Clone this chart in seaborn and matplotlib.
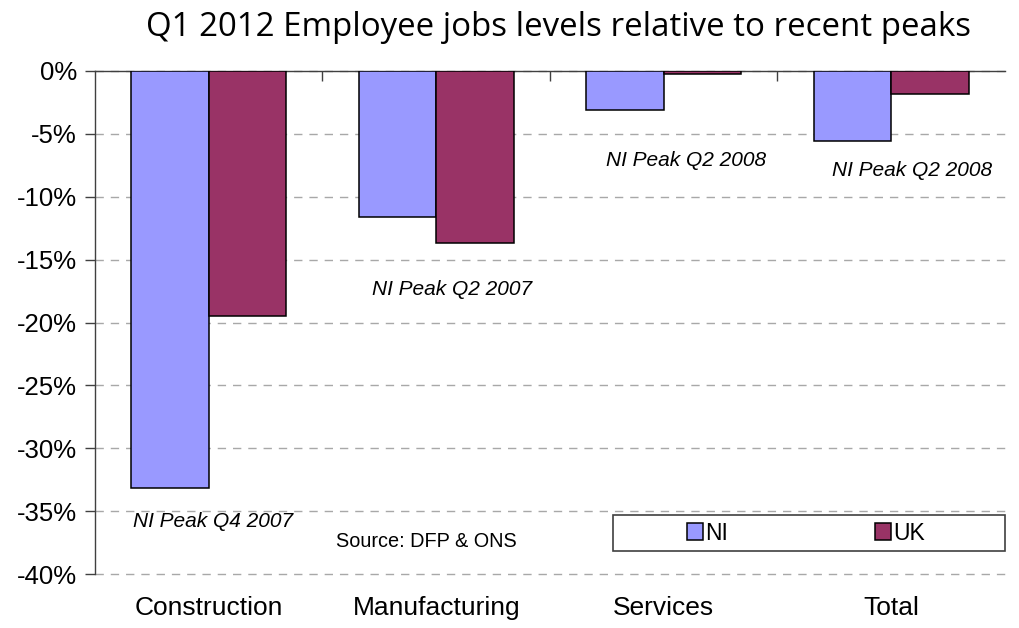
import matplotlib
matplotlib.use("Agg")
import matplotlib.pyplot as plt
import seaborn as sns
import pandas as pd
from matplotlib.ticker import FuncFormatter, MultipleLocator
from matplotlib.patches import Rectangle

categories = ["Construction", "Manufacturing", "Services", "Total"]
ni_values = [-33.2, -11.6, -3.1, -5.6]
uk_values = [-19.5, -13.7, -0.25, -1.85]
peak_labels = ["NI Peak Q4 2007", "NI Peak Q2 2007", "NI Peak Q2 2008", "NI Peak Q2 2008"]
peak_label_y = [-35.8, -17.4, -7.08, -7.95]
peak_label_dx = [0.02, 0.07, 0.1, 0.09]

df = pd.DataFrame({
    "Category": categories * 2,
    "Value": ni_values + uk_values,
    "Series": ["NI"] * 4 + ["UK"] * 4,
})

sns.set_style("white")
plt.rcParams["font.family"] = ["Liberation Sans", "DejaVu Sans"]
plt.rcParams["text.color"] = "black"
plt.rcParams["xtick.color"] = "black"
plt.rcParams["ytick.color"] = "black"
plt.rcParams["axes.labelcolor"] = "black"

fig = plt.figure(figsize=(10.19, 6.28), dpi=100)
ax = fig.add_axes([95 / 1019, 1 - 574 / 628, (1005 - 95) / 1019, (574 - 71) / 628])

sns.barplot(data=df, x="Category", y="Value", hue="Series", order=categories,
            hue_order=["NI", "UK"], palette={"NI": "#9999FF", "UK": "#993366"},
            width=0.68, gap=0, edgecolor="black", linewidth=1.1, saturation=1,
            ax=ax, errorbar=None, zorder=3)

ax.set_ylim(-40, 0)
ax.set_xlim(-0.5, 3.5)
ax.yaxis.set_major_locator(MultipleLocator(5))
ax.yaxis.set_major_formatter(FuncFormatter(lambda v, p: f"{int(round(v))}%"))
ax.grid(axis="y", linestyle=(0, (6, 5)), color="#A8A8A8", linewidth=1, zorder=0)
ax.set_axisbelow(True)
for gl in ax.get_ygridlines():
    gl.set_clip_on(False)

for s in ["right", "bottom"]:
    ax.spines[s].set_visible(False)
ax.spines["left"].set_color("#404040")
ax.spines["top"].set_color("#404040")
ax.spines["left"].set_linewidth(1)
ax.spines["top"].set_linewidth(1)

ax.tick_params(axis="y", left=True, length=7, width=1, color="#404040",
               labelcolor="black", labelsize=18.5, pad=6)
ax.tick_params(axis="x", bottom=False, labelcolor="black", labelsize=19, pad=12)
ax.set_xlabel("")
ax.set_ylabel("")

sec = ax.secondary_xaxis("top")
sec.set_xticks([0.5, 1.5, 2.5])
sec.set_xticklabels([])
sec.tick_params(axis="x", direction="in", length=7, width=1, color="#404040")
sec.spines["top"].set_visible(False)

for i, (lab, y, dx) in enumerate(zip(peak_labels, peak_label_y, peak_label_dx)):
    ax.text(i + dx, y, lab, ha="center", va="center", fontsize=15, style="italic",
            color="black", zorder=5)

ax.text(0.955, -37.4, "Source: DFP & ONS", ha="center", va="center", fontsize=14.3,
        color="black", zorder=5)

# legend box
x0, x1 = (613 - 95) / 910, 1.0
y0, y1 = (574 - 551) / 503, (574 - 515) / 503
ax.add_patch(Rectangle((x0, y0), x1 - x0, y1 - y0, transform=ax.transAxes,
                       facecolor="white", edgecolor="#404040", linewidth=1.2,
                       zorder=4, clip_on=False))
leg = ax.legend(loc="center", bbox_to_anchor=((x0 + x1) / 2 - 0.003, (y0 + y1) / 2),
                ncol=2, frameon=False, fontsize=16.5, columnspacing=6.4,
                handlelength=0.7, handleheight=0.7, handletextpad=0.1,
                borderpad=0, borderaxespad=0, labelcolor="black")
leg.set_title(None)
leg.set_zorder(6)

fig.text(558 / 1019, 1 - 27 / 628, "Q1 2012 Employee jobs levels relative to recent peaks",
         ha="center", va="center", fontsize=23.8, color="black",
         family=["Open Sans", "DejaVu Sans"])

fig.savefig("out.png", dpi=100)
